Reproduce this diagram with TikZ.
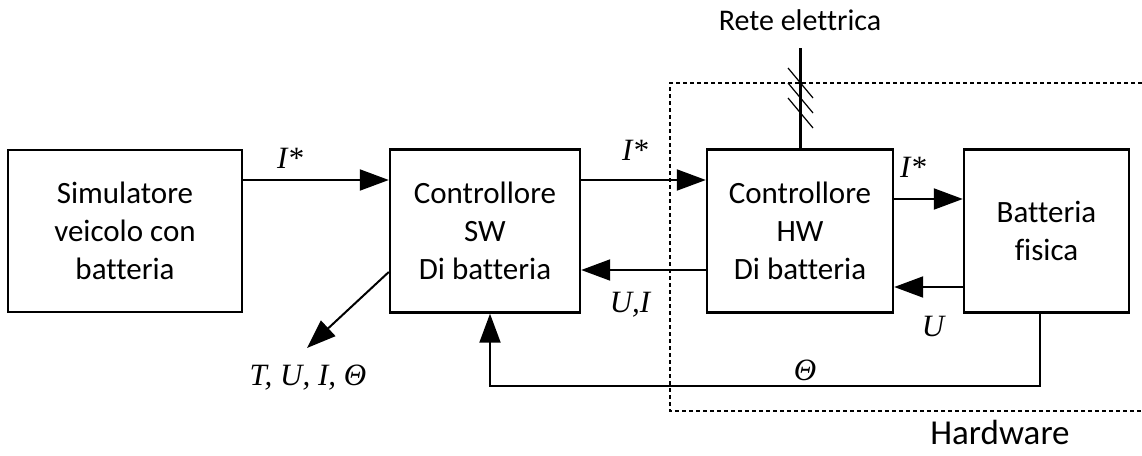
\documentclass[tikz,border=0pt]{standalone}
\usepackage{fontspec}
\setmainfont[Ligatures=NoCommon]{Carlito}
\newfontfamily\timesit[ItalicFont={Liberation Serif Italic}]{Liberation Serif}
\usetikzlibrary{arrows.meta}

\tikzset{
  block/.style={draw, line width=2.4pt, align=center, font=\fontsize{31}{38}\selectfont},
  sig/.style={line width=2pt, -{Triangle[length=29pt,width=21pt]}},
  lbl/.style={font=\fontsize{31}{32}\selectfont\timesit\itshape},
}

\begin{document}
\begin{tikzpicture}[x=1pt,y=-1pt]
   \useasboundingbox (0,0) rectangle (1142,455);

   % Draw blocks
    \node[block, minimum width=234pt, minimum height=162pt] (sim) at (125,231) {Simulatore\\veicolo con\\batteria};
    \node[block, minimum width=190pt, minimum height=163pt] (ctrlsw) at (485,231) {Controllore\\SW\\Di batteria};
    \node[block, minimum width=186pt, minimum height=163pt] (ctrlhw) at (800,231) {Controllore\\HW\\Di batteria};
    \node[block, minimum width=165pt, minimum height=163pt] (batt) at (1046.5,231) {Batteria\\fisica};

    % Hardware region (dashed, open on the right)
    \draw[line width=2pt, dash pattern=on 4pt off 3pt] (1142,83) -- (670,83) -- (670,411) -- (1142,411);
    \node[font=\fontsize{35}{40}\selectfont] (hw) at (1000,432) {Hardware};

    % Grid connection
    \node[font=\fontsize{30}{36}\selectfont] (rete) at (800,20) {Rete elettrica};
    \coordinate (grid) at (800,48);
    \draw[line width=3pt] (grid) -- (ctrlhw.north);
    \foreach \y in {68,83,98}
      \draw[line width=1.2pt] (788,\y) -- ++(25,30);

    % Signal arrows
    \draw[sig] ([yshift=51pt]sim.east) -- ([yshift=51pt]ctrlsw.west);
    \draw[sig] ([yshift=51pt]ctrlsw.east) -- ([yshift=51pt]ctrlhw.west);
    \draw[sig] ([yshift=-39pt]ctrlhw.west) -- ([yshift=-39pt]ctrlsw.east);
    \draw[sig] ([yshift=32pt]ctrlhw.east) -- ([yshift=32pt]batt.west);
    \draw[sig] ([yshift=-56pt]batt.west) -- ([yshift=-56pt]ctrlhw.east);

    % Temperature feedback
    \draw[sig] ([xshift=-7pt]batt.south) -- ++(0,72) -| ([xshift=5pt]ctrlsw.south);

    % Outputs
    \coordinate (out) at (307,348);
    \draw[sig] ([yshift=-41pt]ctrlsw.west) -- (out);
    \node[lbl] (outlbl) at (308,378) {T, U, I, \char"0398};

    % Labels
    \node[lbl] (i1) at (290,158) {I*};
    \node[lbl] (i2) at (635,150) {I*};
    \node[lbl] (i3) at (913,167) {I*};
    \node[lbl] (ui) at (630,305) {U,I};
    \node[lbl] (u) at (933,326) {U};
    \node[lbl] (th) at (805,370) {\char"0398};

  \end{tikzpicture}
\end{document}
